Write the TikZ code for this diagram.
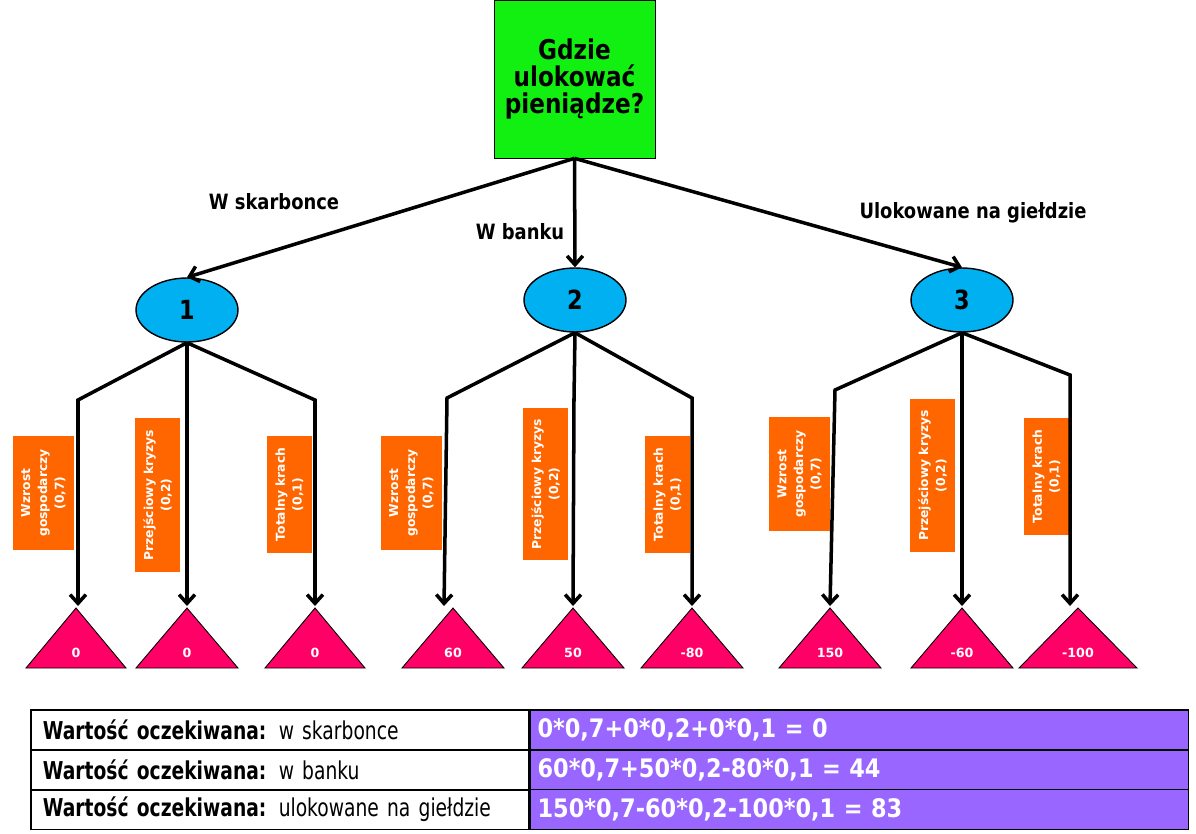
\documentclass[tikz,border=0pt]{standalone}
\usepackage{fontspec}
\setmainfont{DejaVu Sans}
\newfontfamily\narrowfont[FakeStretch=0.85]{DejaVu Sans}
\newfontfamily\cellfont[FakeStretch=0.76]{DejaVu Sans}
\newfontfamily\sumfont[FakeStretch=0.88]{DejaVu Sans}
\usepackage{xcolor}
\usetikzlibrary{arrows.meta, positioning, shapes.geometric}
\definecolor{rootgreen}{HTML}{11F011}
\definecolor{chanceblue}{HTML}{00B0F0}
\definecolor{proborange}{HTML}{FF6600}
\definecolor{leafpink}{HTML}{FF0066}
\definecolor{sumpurple}{HTML}{9966FF}

\begin{document}
\begin{tikzpicture}[x=0.02cm, y=-0.02cm,
    rootbox/.style={draw, fill=rootgreen, minimum width=3.22cm, minimum height=3.16cm, align=center, font=\narrowfont\bfseries\fontsize{15.5}{15.4}\selectfont},
    chance/.style={ellipse, draw, line width=0.8pt, fill=chanceblue, minimum width=2.04cm, minimum height=1.28cm, inner sep=0pt, font=\narrowfont\bfseries\fontsize{15}{16}\selectfont},
    edgelabel/.style={font=\narrowfont\bfseries\fontsize{12}{14}\selectfont},
    probbox/.style={fill=proborange, text=white, rotate=90, align=center, inner sep=0pt, font=\bfseries\fontsize{7}{9.6}\selectfont},
    leaf/.style={draw, fill=leafpink, line width=0.5pt},
    leafval/.style={text=white, font=\bfseries\fontsize{7.2}{8}\selectfont},
    branch/.style={line width=2pt, -{Straight Barb[length=5pt, width=9pt]}},
    namecell/.style={draw, line width=1pt, anchor=west, minimum height=0.8cm, text width=9.48cm, inner xsep=0.24cm, inner ysep=0pt, align=left, font=\cellfont\fontsize{14}{15}\selectfont},
    sumcell/.style={draw, line width=1pt, fill=sumpurple, text=white, anchor=west, minimum height=0.8cm, text width=12.88cm, inner xsep=0.14cm, inner ysep=0pt, align=left, font=\sumfont\bfseries\fontsize{14.5}{15}\selectfont}]
    \useasboundingbox (0,0) rectangle (1196,833);

    \node[rootbox] (root) at (574.5,79) {Gdzie\\ulokować\\pieniądze?};
    \node[chance] (c1) at (187,310) {1};
    \node[chance] (c2) at (575,300) {2};
    \node[chance] (c3) at (962,300) {3};
    \foreach \c in {c1,c2,c3} {
        \draw[branch] (root.south) -- (\c.north);
    }
    \node[edgelabel] (lab1) at (274,202) {W skarbonce};
    \node[edgelabel] (lab2) at (520,232) {W banku};
    \node[edgelabel] (lab3) at (973,213) {Ulokowane na giełdzie};

    \foreach \i/\x/\y/\w/\h/\t in {1/43.5/493/1.22/2.28/{Wzrost\\gospodarczy\\(0,7)},
        2/157.5/495/0.9/3.08/{Przejściowy kryzys\\(0,2)},
        3/289.5/494.5/0.9/2.34/{Totalny krach\\(0,1)},
        4/411.5/493/1.22/2.28/{Wzrost\\gospodarczy\\(0,7)},
        5/545.5/484/0.9/3.04/{Przejściowy kryzys\\(0,2)},
        6/667.5/494.5/0.9/2.34/{Totalny krach\\(0,1)},
        7/799.5/474/1.22/2.28/{Wzrost\\gospodarczy\\(0,7)},
        8/932.5/475.5/0.9/3.06/{Przejściowy kryzys\\(0,2)},
        9/1046.5/476.5/0.9/2.34/{Totalny krach\\(0,1)}} {
        \node[probbox, minimum width=\h cm, minimum height=\w cm] (p\i) at (\x,\y) {\t};
    }

    \foreach \i/\p/\ax/\hw/\ex/\bx/\by/\v in {1/c1/76/50/78/78/400/0, 2/c1/187/51/187/187/400/0,
        3/c1/315/50/315/315/400/0, 4/c2/453/51/444/447/398/60, 5/c2/573/51/573/574/398/50,
        6/c2/692/51/692/692/398/-80, 7/c3/830/51/830/835/390/150, 8/c3/962/51/962/962/390/-60,
        9/c3/1078/59/1070/1070/375/-100} {
        \coordinate (tip\i) at (\ex,606);
        \filldraw[leaf] (\ax,608) -- (\ax+\hw,668) -- (\ax-\hw,668) -- cycle;
        \node[leafval] (val\i) at (\ax,653) {\v};
        \draw[branch] (\p.south) -- (\bx,\by) -- (tip\i);
    }

    \foreach \i/\y/\a/\b in {1/730/{w skarbonce}/{0*0,7+0*0,2+0*0,1 = 0},
        2/770/{w banku}/{60*0,7+50*0,2-80*0,1 = 44},
        3/809.5/{ulokowane na giełdzie}/{150*0,7-60*0,2-100*0,1 = 83}} {
        \node[namecell] (n\i) at (30,\y) {\textbf{Wartość oczekiwana:} \a};
        \node[sumcell] (s\i) at (n\i.east) {\b};
    }
\end{tikzpicture}
\end{document}
